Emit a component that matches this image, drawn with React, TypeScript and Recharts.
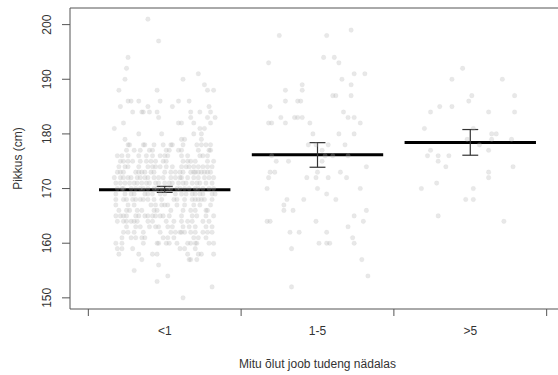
import React from 'react';
import { ScatterChart, Scatter, XAxis, YAxis, ReferenceLine, Label } from 'recharts';

const categories = ['<1', '1-5', '>5'];
const yTicks = [150, 160, 170, 180, 190, 200];
const means = [169.8, 176.2, 178.45];
const ciLow = [169.3, 173.9, 176.1];
const ciHigh = [170.4, 178.4, 180.8];

// "<1" group: [height, jitter offsets]
const lt1Rows: [number, number[]][] = [
  [201, [-0.11]],
  [197, [-0.04]],
  [194, [-0.24]],
  [192, [-0.25]],
  [191, [0.22]],
  [190, [-0.26, 0.12]],
  [189, [0.26]],
  [188, [-0.30, -0.05, 0.28, 0.32]],
  [186, [-0.24, -0.22, -0.17, -0.03, 0.09, 0.16]],
  [185, [-0.29, -0.11, 0.05, 0.29]],
  [184, [-0.21, -0.15, -0.14, -0.10, -0.05, 0.17, 0.23, 0.30]],
  [183, [-0.04, 0.17, 0.28, 0.33]],
  [182, [-0.27, 0.09, 0.11, 0.19, 0.30]],
  [181, [-0.33, 0.23, 0.26]],
  [180, [-0.17, -0.02, 0.19, 0.24]],
  [179, [-0.26, 0.11, 0.13, 0.24]],
  [178, [-0.24, -0.23, -0.14, -0.13, -0.07, -0.01, 0.04, 0.05, 0.12, 0.21, 0.24, 0.27, 0.30]],
  [177, [-0.25, -0.20, -0.16, -0.10, -0.08, 0.01, 0.03, 0.09, 0.11, 0.22, 0.29, 0.30]],
  [176, [-0.31, -0.28, -0.24, -0.17, -0.12, -0.08, -0.03, 0.0, 0.02, 0.11, 0.15, 0.23, 0.25, 0.28]],
  [175, [-0.29, -0.27, -0.24, -0.21, -0.16, -0.12, -0.09, -0.06, -0.01, 0.01, 0.12, 0.15, 0.17, 0.20, 0.28, 0.32]],
  [174, [-0.30, -0.26, -0.24, -0.17, -0.11, -0.08, -0.06, -0.03, 0.01, 0.05, 0.11, 0.14, 0.16, 0.19, 0.22, 0.25, 0.28, 0.31]],
  [173, [-0.31, -0.29, -0.27, -0.19, -0.17, -0.15, -0.13, -0.09, -0.07, 0.0, 0.04, 0.07, 0.10, 0.12, 0.17, 0.19, 0.20, 0.22, 0.24, 0.26, 0.28, 0.30]],
  [172, [-0.33, -0.29, -0.27, -0.24, -0.22, -0.18, -0.16, -0.13, -0.11, -0.07, -0.04, -0.01, 0.04, 0.07, 0.10, 0.11, 0.15, 0.19, 0.22, 0.26, 0.29, 0.32]],
  [171, [-0.32, -0.29, -0.26, -0.23, -0.20, -0.18, -0.15, -0.12, -0.10, -0.06, -0.04, 0.0, 0.03, 0.05, 0.09, 0.12, 0.14, 0.18, 0.21, 0.23, 0.27, 0.31]],
  [170, [-0.31, -0.28, -0.27, -0.22, -0.19, -0.16, -0.14, -0.11, -0.07, -0.05, -0.02, 0.02, 0.04, 0.08, 0.10, 0.13, 0.16, 0.20, 0.22, 0.25, 0.29, 0.32]],
  [169, [-0.32, -0.26, -0.22, -0.20, -0.13, -0.11, -0.08, -0.03, 0.0, 0.07, 0.11, 0.14, 0.18, 0.20, 0.23, 0.25, 0.31, 0.33]],
  [168, [-0.32, -0.27, -0.25, -0.21, -0.19, -0.16, -0.14, -0.11, -0.07, -0.02, 0.06, 0.08, 0.13, 0.18, 0.20, 0.22, 0.24, 0.26, 0.31]],
  [167, [-0.32, -0.24, -0.20, -0.09, -0.06, -0.02, 0.0, 0.02, 0.08, 0.13, 0.19, 0.23, 0.30]],
  [166, [-0.30, -0.25, -0.23, -0.18, -0.15, -0.07, -0.05, 0.04, 0.12, 0.17, 0.20, 0.27, 0.28]],
  [165, [-0.32, -0.29, -0.27, -0.25, -0.19, -0.17, -0.13, -0.11, -0.08, -0.06, -0.03, -0.01, 0.03, 0.11, 0.18, 0.21, 0.27, 0.32]],
  [164, [-0.31, -0.27, -0.25, -0.22, -0.20, -0.18, -0.11, -0.08, 0.01, 0.06, 0.11, 0.15, 0.18, 0.25, 0.29]],
  [163, [-0.25, -0.19, -0.16, -0.10, -0.06, -0.04, 0.02, 0.05, 0.12, 0.16, 0.20, 0.27, 0.31]],
  [162, [-0.27, -0.24, -0.20, -0.14, -0.03, 0.04, 0.07, 0.10, 0.11, 0.13, 0.17, 0.20, 0.25, 0.28, 0.31]],
  [161, [-0.28, -0.22, -0.19, -0.15, -0.13, -0.01, 0.02, 0.06, 0.19, 0.22, 0.27]],
  [160, [-0.32, -0.28, -0.14, -0.05, -0.04, 0.01, 0.03, 0.08, 0.15, 0.17, 0.20, 0.21, 0.29, 0.32]],
  [159, [-0.31, -0.28, -0.21, 0.10, 0.13, 0.20]],
  [158, [-0.30, -0.17, -0.08, -0.05, 0.15, 0.22, 0.24, 0.32]],
  [157, [-0.15, 0.16, 0.17, 0.21]],
  [156, [-0.04]],
  [155, [-0.20]],
  [154, [0.02]],
  [153, [-0.05]],
  [152, [0.31]],
  [150, [0.12]],
];

// "1-5" group: [jitter offset, height]
const mid5Points: [number, number][] = [
  [0.22, 199], [-0.25, 198], [0.06, 198], [0.04, 194], [0.11, 194], [-0.32, 193], [0.14, 193],
  [0.31, 191], [0.24, 191], [0.16, 190], [-0.10, 189], [0.22, 189], [-0.21, 188], [-0.10, 188],
  [0.10, 187], [0.12, 187], [0.22, 187], [-0.21, 186], [-0.13, 186], [-0.11, 186], [-0.31, 185],
  [0.17, 184], [-0.24, 183], [-0.15, 183], [-0.13, 183], [-0.10, 183], [0.20, 183], [0.24, 183],
  [-0.32, 182], [-0.30, 182], [-0.21, 182], [-0.05, 182], [0.28, 182], [-0.03, 180], [0.14, 180],
  [0.24, 180], [-0.06, 178], [-0.01, 178], [0.07, 178], [0.18, 178], [0.03, 177], [-0.30, 176],
  [0.05, 176], [0.10, 176], [0.20, 176], [-0.27, 175], [-0.19, 175], [0.03, 175], [0.32, 174],
  [-0.31, 173], [-0.28, 173], [0.0, 173], [0.15, 173], [-0.32, 172], [-0.07, 172], [-0.01, 172],
  [0.07, 172], [0.19, 172], [-0.33, 170], [0.0, 170], [0.28, 170], [0.06, 169], [-0.20, 168],
  [-0.09, 168], [0.12, 168], [-0.22, 167], [-0.22, 166], [-0.16, 166], [0.32, 166], [0.24, 165],
  [0.30, 164], [-0.33, 164], [-0.31, 164], [-0.01, 164], [0.20, 163], [-0.18, 162], [-0.12, 162],
  [0.06, 162], [0.23, 161], [0.01, 160], [0.06, 160], [0.08, 160], [0.24, 160], [-0.17, 159],
  [0.29, 157], [0.33, 154], [-0.17, 152],
];

// ">5" group: [jitter offset, height]
const gt5Points: [number, number][] = [
  [-0.05, 192], [-0.12, 190], [0.21, 190], [0.01, 187], [0.29, 187], [-0.01, 186], [-0.20, 185],
  [-0.12, 185], [0.29, 184], [-0.26, 184], [0.12, 184], [-0.30, 181], [0.02, 181], [0.14, 180],
  [0.17, 180], [-0.02, 179], [0.14, 179], [0.27, 179], [0.06, 178], [-0.26, 177], [0.12, 177],
  [-0.28, 176], [-0.21, 176], [-0.14, 176], [-0.21, 175], [-0.16, 174], [0.28, 174], [0.12, 173],
  [0.12, 172], [-0.22, 171], [-0.32, 170], [0.02, 170], [-0.03, 168], [0.02, 168], [-0.21, 165],
  [0.22, 164],
];

const FONT = "'Liberation Sans', Arial, sans-serif";
const AXIS = '#555';
const TEXT = '#333';

const center = (i: number) => i + 0.5;

const lt1Data = lt1Rows.flatMap(([h, offs]) => offs.map((o) => ({ x: center(0) + o, y: h })));
const mid5Data = mid5Points.map(([o, h]) => ({ x: center(1) + o, y: h }));
const gt5Data = gt5Points.map(([o, h]) => ({ x: center(2) + o, y: h }));

const Dot = (props: any) => {
  const { cx, cy } = props;
  if (cx == null || cy == null) return null;
  return <circle cx={cx} cy={cy} r={2.3} fill="#b4b4b4" fillOpacity={0.3} stroke="#aaa" strokeOpacity={0.12} strokeWidth={0.6} />;
};

const XTick = (props: any) => {
  const { x, y, payload } = props;
  const v = payload.value as number;
  if (Math.abs(v - Math.round(v)) < 1e-6) {
    return <line x1={x} x2={x} y1={y} y2={y + 7} stroke={AXIS} strokeWidth={1} />;
  }
  const idx = Math.floor(v);
  return (
    <text x={x} y={y + 26} textAnchor="middle" fontSize={12} fill={TEXT} fontFamily={FONT}>
      {categories[idx]}
    </text>
  );
};

const YTick = (props: any) => {
  const { x, y, payload } = props;
  const tx = x - 19;
  return (
    <g>
      <line x1={x - 8} x2={x} y1={y} y2={y} stroke={AXIS} strokeWidth={1} />
      <text x={tx} y={y} transform={`rotate(-90, ${tx}, ${y})`} textAnchor="middle" fontSize={12} fill={TEXT} fontFamily={FONT}>
        {payload.value}
      </text>
    </g>
  );
};

const yDomain: [number, number] = [147.96, 203.04];
const xDomain: [number, number] = [-0.12, 3.12];

export default function App() {
  return (
    <div style={{ position: 'absolute', left: 0, top: 0, width: 558, height: 375, overflow: 'hidden', background: '#fff' }}>
      <ScatterChart width={600} height={375} margin={{ top: 8, right: 35, bottom: 0, left: 0 }}>
        <XAxis
          type="number"
          dataKey="x"
          domain={xDomain}
          ticks={[0, 0.5, 1, 1.5, 2, 2.5, 3]}
          tick={<XTick />}
          tickLine={false}
          tickSize={0}
          tickMargin={0}
          height={66}
          allowDataOverflow
          axisLine={{ stroke: AXIS, strokeWidth: 1 }}
        >
          <Label
            content={(p: any) => {
              const vb = p.viewBox;
              return (
                <text x={vb.x + vb.width / 2} y={vb.y + 59} textAnchor="middle" fontSize={12} fill={TEXT} fontFamily={FONT}>
                  Mitu õlut joob tudeng nädalas
                </text>
              );
            }}
          />
        </XAxis>
        <YAxis
          type="number"
          dataKey="y"
          domain={yDomain}
          ticks={yTicks}
          tick={<YTick />}
          tickLine={false}
          tickSize={0}
          tickMargin={0}
          width={70}
          allowDataOverflow
          axisLine={{ stroke: AXIS, strokeWidth: 1 }}
        >
          <Label
            content={(p: any) => {
              const vb = p.viewBox;
              const cx = vb.x + 22;
              const cy = vb.y + vb.height / 2;
              return (
                <text x={cx} y={cy} transform={`rotate(-90, ${cx}, ${cy})`} textAnchor="middle" fontSize={12} fill={TEXT} fontFamily={FONT}>
                  Pikkus (cm)
                </text>
              );
            }}
          />
        </YAxis>
        <ReferenceLine y={yDomain[1]} stroke={AXIS} strokeWidth={1} ifOverflow="visible" />
        <Scatter data={lt1Data} shape={<Dot />} isAnimationActive={false} />
        <Scatter data={mid5Data} shape={<Dot />} isAnimationActive={false} />
        <Scatter data={gt5Data} shape={<Dot />} isAnimationActive={false} />
        {means.map((m, i) => (
          <ReferenceLine
            key={`mean-${i}`}
            segment={[{ x: center(i) - 0.43, y: m }, { x: center(i) + 0.43, y: m }]}
            stroke="#000"
            strokeWidth={3}
            ifOverflow="visible"
          />
        ))}
        {means.map((_, i) => (
          <ReferenceLine
            key={`ci-${i}`}
            segment={[{ x: center(i), y: ciLow[i] }, { x: center(i), y: ciHigh[i] }]}
            stroke="#333"
            strokeWidth={1.2}
            ifOverflow="visible"
          />
        ))}
        {means.map((_, i) => (
          <ReferenceLine
            key={`cl-${i}`}
            segment={[{ x: center(i) - 0.052, y: ciLow[i] }, { x: center(i) + 0.052, y: ciLow[i] }]}
            stroke="#333"
            strokeWidth={1.2}
            ifOverflow="visible"
          />
        ))}
        {means.map((_, i) => (
          <ReferenceLine
            key={`ch-${i}`}
            segment={[{ x: center(i) - 0.052, y: ciHigh[i] }, { x: center(i) + 0.052, y: ciHigh[i] }]}
            stroke="#333"
            strokeWidth={1.2}
            ifOverflow="visible"
          />
        ))}
      </ScatterChart>
    </div>
  );
}
